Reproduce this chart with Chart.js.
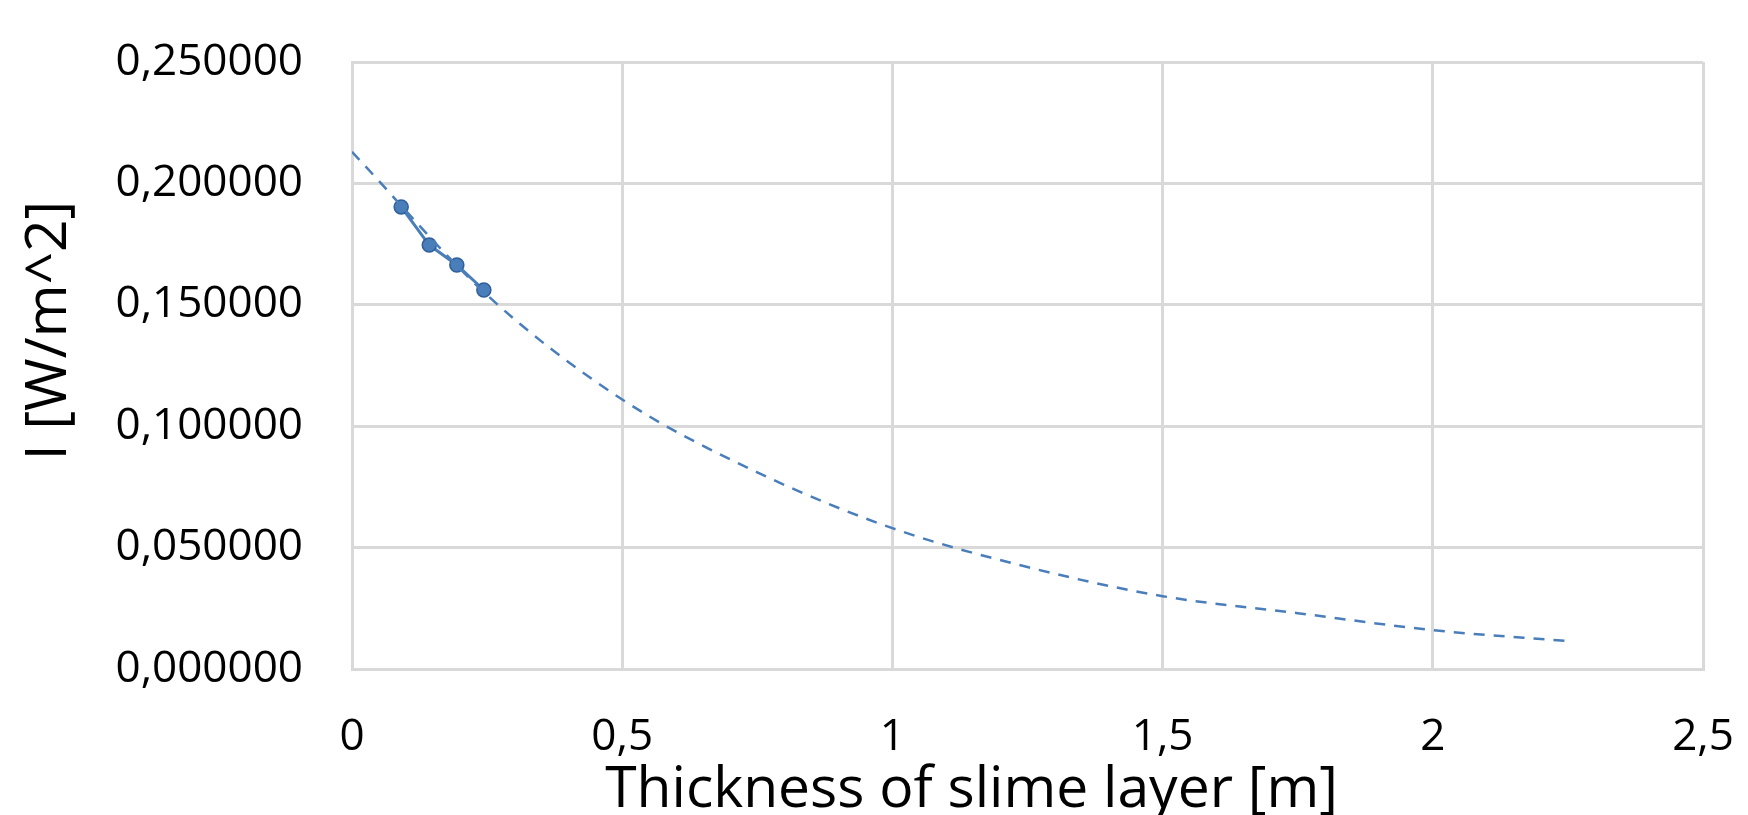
<!DOCTYPE html>
<html>
<head>
<meta charset="utf-8">
<script src="https://cdn.jsdelivr.net/npm/chart.js@4/dist/chart.umd.min.js"></script>
<style>
  html, body { margin: 0; padding: 0; background: #fff; }
  #wrap { width: 1748px; height: 815px; }
</style>
</head>
<body>
<div id="wrap"><canvas id="chart" width="1748" height="815"></canvas></div>
<script>
// measured points (thickness in m, intensity in W/m^2)
const thickness = [0.091, 0.143, 0.194, 0.244];
const intensity = [0.1903, 0.1746, 0.1664, 0.1561];

// exponential trendline
const trendX = [0, 0.25, 0.5, 0.75, 1.0, 1.25, 1.5, 1.75, 2.0, 2.25];
const trendY = [0.213, 0.154, 0.111, 0.081, 0.058, 0.042, 0.030, 0.023, 0.016, 0.0115];

const xTickLabels = ["0", "0,5", "1", "1,5", "2", "2,5"];
const yTickLabels = ["0,000000", "0,050000", "0,100000", "0,150000", "0,200000", "0,250000"];

const xTitle = "Thickness of slime layer [m]";
const yTitle = "I [W/m^2]";

const FONT = "'Open Sans', 'Liberation Sans', sans-serif";
const BLUE = "#4a7ebb";
const GRID = "#d9d9d9";

// axis titles are a bit off-centre in the original, so draw them by hand
const axisTitles = {
  id: "axisTitles",
  afterDraw(chart) {
    const ctx = chart.ctx;
    const area = chart.chartArea;
    ctx.save();
    ctx.fillStyle = "#000";
    ctx.font = "57px " + FONT;
    ctx.textAlign = "center";
    ctx.textBaseline = "alphabetic";
    ctx.fillText(xTitle, (area.left + area.right) / 2 - 56, 807);

    ctx.translate(66, (area.top + area.bottom) / 2 - 35);
    ctx.rotate(-Math.PI / 2);
    ctx.fillText(yTitle, 0, 0);
    ctx.restore();
  },
};

new Chart(document.getElementById("chart"), {
  type: "scatter",
  data: {
    datasets: [
      {
        label: "Trend",
        data: trendX.map((x, i) => ({ x: x, y: trendY[i] })),
        showLine: true,
        borderColor: BLUE,
        borderWidth: 2.5,
        borderDash: [11, 9],
        pointRadius: 0,
        cubicInterpolationMode: "monotone",
      },
      {
        label: "I",
        data: thickness.map((x, i) => ({ x: x, y: intensity[i] })),
        showLine: true,
        borderColor: BLUE,
        borderWidth: 3,
        pointRadius: 7,
        pointBackgroundColor: BLUE,
        pointBorderColor: "#2f5f9a",
        pointBorderWidth: 1.5,
      },
    ],
  },
  options: {
    responsive: false,
    animation: false,
    layout: { padding: { top: 62, right: 45, left: 0, bottom: 0 } },
    plugins: {
      legend: { display: false },
      tooltip: { enabled: false },
    },
    scales: {
      x: {
        type: "linear",
        min: 0,
        max: 2.5,
        afterFit: (scale) => {
          scale.height = 146;
          scale.paddingLeft = 0;
          scale.paddingRight = 0;
        },
        afterBuildTicks: (scale) => {
          scale.ticks = xTickLabels.map((t, i) => ({ value: i * 0.5 }));
        },
        ticks: {
          callback: (value, index) => xTickLabels[index],
          color: "#000",
          font: { family: FONT, size: 44 },
          padding: 42,
          maxRotation: 0,
        },
        grid: { color: GRID, lineWidth: 3, drawTicks: false },
        border: { color: GRID, width: 3 },
      },
      y: {
        min: 0,
        max: 0.25,
        afterFit: (scale) => {
          scale.width = 352;
          scale.paddingTop = 0;
          scale.paddingBottom = 0;
        },
        afterBuildTicks: (scale) => {
          scale.ticks = yTickLabels.map((t, i) => ({ value: i * 0.05 }));
        },
        ticks: {
          callback: (value, index) => yTickLabels[index],
          color: "#000",
          font: { family: FONT, size: 44 },
          padding: 49,
        },
        grid: { color: GRID, lineWidth: 3, drawTicks: false },
        border: { color: GRID, width: 3 },
      },
    },
  },
  plugins: [axisTitles],
});
</script>
</body>
</html>
